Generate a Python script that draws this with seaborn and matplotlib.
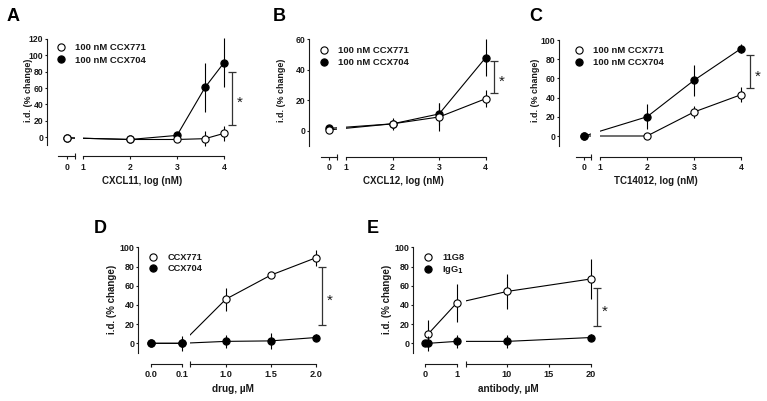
import numpy as np
import matplotlib
matplotlib.use('Agg')
import matplotlib.pyplot as plt
import seaborn as sns
from matplotlib.lines import Line2D

# ---------------- data ----------------
# A  CXCL11, log (nM)
a_x = [0, 2, 3, 3.6, 4]
a_771 = [-1, -3, -3, -2, 4.5]
a_771_sem = [1, 2, 2, 9, 9]
a_704 = [-1, -3, 2, 61, 91]
a_704_sem = [1, 1, 2, 30, 30]
a_sig = [15, 80]

# B  CXCL12, log (nM)
b_x = [0, 2, 3, 4]
b_771 = [0.5, 4.5, 9, 21]
b_771_sem = [1.5, 4, 9, 5.5]
b_704 = [1.5, 4.5, 11, 48]
b_704_sem = [1, 2, 7, 12]
b_sig = [24.5, 46]

# C  TC14012, log (nM)
c_x = [0, 2, 3, 4]
c_771 = [0, 0, 25, 43]
c_771_sem = [1, 3, 6, 8]
c_704 = [0, 20, 58, 91]
c_704_sem = [1, 13, 16, 5]
c_sig = [50, 84]

# D  drug, uM
d_x = [0.0, 0.1, 1.0, 1.5, 2.0]
d_771 = [0, 0, 46, 71, 89]
d_771_sem = [1, 1, 12, 2, 8]
d_704 = [0, 0, 2, 2.5, 6]
d_704_sem = [2, 8, 7, 8, 4]
d_sig = [19, 79]

# E  antibody, uM
e_x_11g8 = [0.1, 1, 10, 20]
e_11g8 = [10, 42, 54, 67]
e_11g8_sem = [14, 20, 18, 21]
e_x_igg = [0, 0.1, 1, 10, 20]
e_igg = [0, 0, 2, 2, 6]
e_igg_sem = [2, 8, 7, 7, 4]
e_sig = [18, 58]

log_ticks_left, log_ticks_right = [0], [1, 2, 3, 4]
d_ticks_left, d_ticks_right = [0.0, 0.1], [1.0, 1.5, 2.0]
e_ticks_left, e_ticks_right = [0, 1], [10, 15, 20]

# ---------------- style ----------------
sns.set_theme(style='ticks')
plt.rcParams['font.family'] = ['Liberation Sans', 'DejaVu Sans']
plt.rcParams['font.weight'] = 'bold'
plt.rcParams['text.color'] = '#1a1a1a'
plt.rcParams['xtick.color'] = '#1a1a1a'
plt.rcParams['ytick.color'] = '#1a1a1a'

W, H = 767, 401
fig = plt.figure(figsize=(W / 100, H / 100), dpi=100)
MS = 5.2


def fx(px):
    return px / W


def fy(py):
    return 1 - py / H


def make_scale(seg1, seg1_px, seg2, seg2_px):
    # piecewise linear scale for a broken x axis (Prism style)
    d = np.array([*seg1, *seg2], float)
    p = np.array([*seg1_px, *seg2_px], float)
    k1 = (p[1] - p[0]) / (d[1] - d[0])
    k2 = (p[3] - p[2]) / (d[3] - d[2])
    d = np.r_[d[0] - 1e3, d, d[3] + 1e3]
    p = np.r_[p[0] - 1e3 * k1, p, p[3] + 1e3 * k2]
    return (lambda x: np.interp(x, d, p)), (lambda v: np.interp(v, p, d))


def panel(letter, letter_px, series, labels, sig, lay, ticks_l, ticks_r, fmt,
          xlabel, xlabel_px, ylabel_px, leg_px, fs):
    fwd, inv = make_scale(lay['seg1'], lay['seg1_px'], lay['seg2'], lay['seg2_px'])
    yx, ytop, ybot = lay['yx'], lay['ytop_px'], lay['ybot_px']
    s1b = lay['seg1_px'][1]
    s2a, s2b = lay['seg2_px']
    h = (ybot - ytop) / H
    axl = fig.add_axes([fx(yx), fy(ybot), (s1b - yx) / W, h])
    axr = fig.add_axes([fx(s2a), fy(ybot), (s2b + 6 - s2a) / W, h], sharey=axl)
    for ax in (axl, axr):
        ax.set_facecolor('none')
        ax.set_xscale('function', functions=(fwd, inv))
        for s in ('top', 'right'):
            ax.spines[s].set_visible(False)
        ax.spines['bottom'].set_position(('outward', 8))
        ax.tick_params(axis='x', which='major', direction='out', length=2.5,
                       width=0.8, pad=2, labelsize=fs['xt'])
        ax.tick_params(axis='x', which='minor', direction='inout', length=4.5, width=0.8)
        ax.tick_params(axis='y', direction='out', length=1.8, width=0.8, pad=1,
                       labelsize=fs['yt'])
        for s in ('left', 'bottom'):
            ax.spines[s].set_linewidth(0.8)
            ax.spines[s].set_color('#1a1a1a')
    axl.set_xlim(inv(yx), lay['seg1'][1])
    axr.set_xlim(lay['seg2'][0], inv(s2b + 6))
    axl.set_ylim(-10, lay['ymax'])
    axl.set_yticks(np.arange(0, lay['ymax'] + 1, 20))
    axl.spines['left'].set_bounds(-10, lay['ymax'])
    axl.spines['bottom'].set_bounds(*lay['seg1'])
    axr.spines['bottom'].set_bounds(*lay['seg2'])
    axr.spines['left'].set_visible(False)
    axr.tick_params(axis='y', left=False, labelleft=False)
    axl.set_xticks(ticks_l, [fmt.format(t) for t in ticks_l])
    axr.set_xticks(ticks_r, [fmt.format(t) for t in ticks_r])
    axl.set_xticks([lay['seg1'][1]], minor=True)
    axr.set_xticks([lay['seg2'][0]], minor=True)

    for ax in (axl, axr):
        lo, hi = ax.get_xlim()
        for i, (x, y, e, fc) in enumerate(series):
            sns.lineplot(x=x, y=y, ax=ax, color='black', lw=0.8, legend=False,
                         errorbar=None, zorder=2)
            xs, ys, es = np.array(x, float), np.array(y, float), np.array(e, float)
            inside = (xs >= lo - 1e-9) & (xs <= hi + 1e-9)
            if not inside.any():
                continue
            ax.errorbar(xs[inside], ys[inside], yerr=es[inside], fmt='none',
                        ecolor='black', elinewidth=0.8, capsize=0, clip_on=False,
                        zorder=3 + i)
            sns.scatterplot(x=xs[inside], y=ys[inside], ax=ax, s=MS ** 2, color=fc,
                            edgecolor='black', linewidth=0.8, clip_on=False,
                            zorder=3.5 + i, legend=False)
        ax.set_xlabel('')
        ax.set_ylabel('')

    # significance bracket
    mid = (sig[0] + sig[1]) / 2
    axr.errorbar([lay['sig_x']], [mid], yerr=[(sig[1] - sig[0]) / 2], fmt='none',
                 ecolor='#333333', elinewidth=0.9, capsize=3, capthick=0.9,
                 clip_on=False)
    axr.annotate('*', xy=(lay['sig_x'], mid), xytext=(5.5, -3.5),
                 textcoords='offset points', ha='center', va='center',
                 fontsize=11, fontweight='normal', annotation_clip=False)

    handles = [Line2D([], [], ls='none', marker='o', ms=MS, mfc=c, mec='black', mew=0.8)
               for c in ('white', 'black')]
    axl.legend(handles, labels, loc='upper left', bbox_to_anchor=(fx(leg_px[0]), fy(leg_px[1])),
               bbox_transform=fig.transFigure, frameon=False, borderpad=0,
               borderaxespad=0, handlelength=1.0, handletextpad=1.0,
               labelspacing=fs['ls'], prop={'size': fs['leg'], 'weight': 'bold'})

    fig.text(fx(letter_px[0]), fy(letter_px[1]), letter, fontsize=13,
             fontweight='bold', ha='left', va='baseline', color='black')
    fig.text(fx(ylabel_px[0]), fy(ylabel_px[1]), 'i.d. (% change)', rotation=90,
             ha='center', va='center', fontsize=fs['yl'])
    fig.text(fx(xlabel_px[0]), fy(xlabel_px[1]), xlabel, ha='center', va='center',
             fontsize=fs['xl'])


top_fs = dict(xt=6.2, yt=6.2, xl=7.0, yl=6.4, leg=6.8, ls=0.33)
bot_fs = dict(xt=6.6, yt=6.4, xl=7.2, yl=7.0, leg=6.7, ls=0.2)
ccx = ['100 nM CCX771', '100 nM CCX704']

panel('A', (7, 20.7),
      [(a_x, a_704, a_704_sem, 'black'), (a_x, a_771, a_771_sem, 'white')], ccx, a_sig,
      dict(yx=47, ytop_px=39, ybot_px=145.2, ymax=120, seg1=(-0.19, 0.17),
           seg1_px=(58, 75), seg2=(1, 4), seg2_px=(83, 224), sig_x=4.17),
      log_ticks_left, log_ticks_right, '{:g}', 'CXCL11, log (nM)', (141.7, 180.5),
      (28.5, 90), (56.3, 43.5), top_fs)

panel('B', (272.5, 20.7),
      [(b_x, b_704, b_704_sem, 'black'), (b_x, b_771, b_771_sem, 'white')], ccx, b_sig,
      dict(yx=309.3, ytop_px=39.3, ybot_px=145.9, ymax=60, seg1=(-0.17, 0.165),
           seg1_px=(321, 336.7), seg2=(1, 4), seg2_px=(346, 485.7), sig_x=4.18),
      log_ticks_left, log_ticks_right, '{:g}', 'CXCL12, log (nM)', (403, 180.5),
      (281, 90), (319.3, 46), top_fs)

panel('C', (529, 20.7),
      [(c_x, c_771, c_771_sem, 'white'), (c_x, c_704, c_704_sem, 'black')], ccx, c_sig,
      dict(yx=559.3, ytop_px=40, ybot_px=145.6, ymax=100, seg1=(-0.177, 0.136),
           seg1_px=(576, 590.7), seg2=(1, 4), seg2_px=(600, 741), sig_x=4.19),
      log_ticks_left, log_ticks_right, '{:g}', 'TC14012, log (nM)', (656, 181.5),
      (536, 90), (574.3, 46), top_fs)

panel('D', (94, 233.3),
      [(d_x, d_771, d_771_sem, 'white'), (d_x, d_704, d_704_sem, 'black')],
      ['CCX771', 'CCX704'], d_sig,
      dict(yx=138.3, ytop_px=247.3, ybot_px=352.9, ymax=100, seg1=(0.0, 0.1),
           seg1_px=(150.7, 181.7), seg2=(0.6, 2.0), seg2_px=(190, 315.7), sig_x=2.067),
      d_ticks_left, d_ticks_right, '{:.1f}', 'drug, µM', (233, 389),
      (111.8, 299), (148.6, 253), bot_fs)

panel('E', (366.5, 233.3),
      [(e_x_11g8, e_11g8, e_11g8_sem, 'white'), (e_x_igg, e_igg, e_igg_sem, 'black')],
      ['11G8', 'IgG$_1$'], e_sig,
      dict(yx=413.3, ytop_px=247.3, ybot_px=352.9, ymax=100, seg1=(0, 1),
           seg1_px=(425.3, 456.7), seg2=(5.1, 20), seg2_px=(466, 590.7), sig_x=20.8),
      e_ticks_left, e_ticks_right, '{:g}', 'antibody, µM', (508, 389),
      (386.7, 299), (423.6, 253.5), bot_fs)

fig.savefig('out.png', dpi=100)
